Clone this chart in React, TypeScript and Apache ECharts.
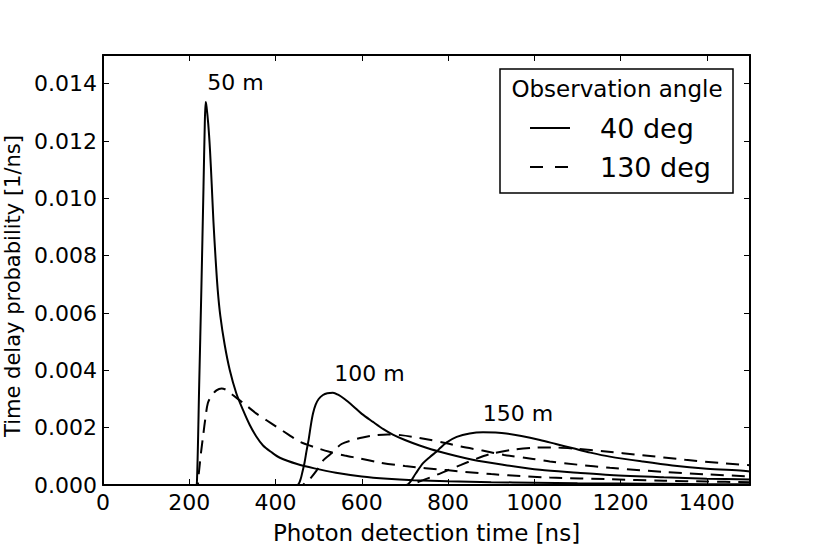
import { useEffect, useRef } from "react";
import * as echarts from "echarts";

// Time delay distributions: [time ns, probability 1/ns]
const solid50: number[][] = [
  [0, 0], [215, 0], [218, 0.0002], [223, 0.0035], [228, 0.0068], [233, 0.0104], [236, 0.0126],
  [238, 0.01336], [240, 0.0132], [244, 0.0126], [248, 0.0117], [252, 0.0105], [256, 0.0092],
  [261, 0.0079], [266, 0.0068], [272, 0.0059], [282, 0.0049], [294, 0.004], [309, 0.0032],
  [325, 0.0026], [340, 0.0021], [355, 0.0017], [371, 0.00138], [390, 0.00115], [410, 0.00095],
  [450, 0.00073], [490, 0.00058], [540, 0.00043], [600, 0.0003], [660, 0.00022], [720, 0.00017],
  [800, 0.00013], [900, 0.0001], [1000, 0.00008], [1100, 0.00006], [1200, 0.00005], [1300, 0.00004],
  [1400, 0.00003], [1500, 0.00003],
];
const dashed50: number[][] = [
  [0, 0], [218, 0], [222, 0.0004], [227, 0.0011], [232, 0.0017], [238, 0.0024], [243, 0.00285],
  [251, 0.0031], [263, 0.0033], [275, 0.00337], [288, 0.0033], [301, 0.00314], [330, 0.0028],
  [355, 0.0025], [380, 0.00225], [402, 0.00203], [430, 0.00176], [456, 0.00151], [490, 0.00132],
  [525, 0.00116], [560, 0.00103], [595, 0.00093], [642, 0.00078], [700, 0.00066], [796, 0.00052],
  [900, 0.00038], [1036, 0.00026], [1175, 0.0002], [1300, 0.00015], [1400, 0.00012], [1500, 0.0001],
];
const solid100: number[][] = [
  [0, 0], [450, 0], [458, 0.0002], [463, 0.0005], [467, 0.00076], [472, 0.0012], [477, 0.0016],
  [482, 0.0021], [487, 0.0025], [493, 0.0028], [500, 0.003], [510, 0.00314], [520, 0.0032],
  [533, 0.00322], [545, 0.00315], [560, 0.003], [580, 0.00275], [600, 0.00248], [626, 0.0022],
  [650, 0.00195], [672, 0.00176], [700, 0.00157], [734, 0.00138], [781, 0.00116], [857, 0.00088],
  [930, 0.0007], [1013, 0.00053], [1100, 0.00043], [1175, 0.00035], [1300, 0.00027], [1400, 0.00022],
  [1500, 0.00019],
];
const dashed100: number[][] = [
  [0, 0], [462, 0], [470, 0.0001], [479, 0.0002], [495, 0.0005], [510, 0.00085], [525, 0.00105],
  [553, 0.00143], [579, 0.00157], [602, 0.00166], [630, 0.00173], [660, 0.00176], [690, 0.00174],
  [734, 0.00164], [796, 0.00146], [830, 0.00134], [880, 0.0012], [930, 0.00105], [997, 0.00091],
  [1036, 0.00082], [1100, 0.00071], [1175, 0.0006], [1300, 0.00046], [1400, 0.00037], [1500, 0.0003],
];
const solid150: number[][] = [
  [0, 0], [703, 0], [711, 0.00008], [725, 0.0004], [742, 0.00076], [758, 0.00098], [773, 0.00116],
  [781, 0.00128], [796, 0.00148], [820, 0.00168], [850, 0.0018], [881, 0.00184], [910, 0.00183],
  [935, 0.0018], [970, 0.00171], [1013, 0.00157], [1050, 0.00143], [1090, 0.00128], [1130, 0.00113],
  [1175, 0.00099], [1250, 0.00082], [1320, 0.00068], [1400, 0.00057], [1484, 0.0005], [1500, 0.00047],
];
const dashed150: number[][] = [
  [0, 0], [705, 0], [720, 0.00005], [742, 0.00017], [773, 0.00035], [800, 0.00052], [830, 0.0007],
  [866, 0.00092], [900, 0.00109], [950, 0.00123], [1000, 0.0013], [1040, 0.00131], [1100, 0.00126],
  [1160, 0.00118], [1250, 0.00104], [1350, 0.00088], [1430, 0.00077], [1500, 0.00069],
];

const distanceLabels = ["50 m", "100 m", "150 m"];
const labelTimes = [307, 618, 962];
const labelValues = [0.01404, 0.0039, 0.00251];

const legendTitle = "Observation angle";
const angleNames = ["40 deg", "130 deg"];

const FONT = "DejaVu Sans";

export default function App() {
  const ref = useRef<HTMLDivElement>(null);

  useEffect(() => {
    if (!ref.current) return;
    const chart = echarts.init(ref.current, undefined, { renderer: "svg" });

    const lineSeries = (data: number[][], dashed: boolean) => ({
      type: "line",
      data,
      showSymbol: false,
      symbol: "none",
      smooth: 0.3,
      xAxisIndex: 0,
      yAxisIndex: 0,
      lineStyle: { color: "#000", width: 2, type: dashed ? [13, 8] : "solid" },
      z: 3,
    });

    const axisCommon = {
      axisLine: { show: true, onZero: false, lineStyle: { color: "#000", width: 2 } },
      axisTick: { show: true, inside: true, length: 6, lineStyle: { color: "#000", width: 1 } },
      splitLine: { show: false },
    };

    chart.setOption({
      animation: false,
      backgroundColor: "#fff",
      grid: {
        left: 103,
        right: 80,
        top: 55,
        bottom: 69,
        containLabel: false,
        outerBoundsMode: "none",
      },
      xAxis: [
        {
          type: "value",
          min: 0,
          max: 1500,
          interval: 200,
          position: "bottom",
          ...axisCommon,
          axisLabel: {
            show: true,
            showMaxLabel: false,
            margin: 6,
            color: "#000",
            fontFamily: FONT,
            fontSize: 22,
            formatter: (v: number) => String(Math.round(v)),
          },
          name: "Photon detection time [ns]",
          nameLocation: "middle",
          nameGap: 36,
          nameTextStyle: { color: "#000", fontFamily: FONT, fontSize: 23 },
        },
        {
          type: "value",
          min: 0,
          max: 1500,
          interval: 200,
          position: "top",
          ...axisCommon,
          axisLabel: { show: false },
        },
      ],
      yAxis: [
        {
          type: "value",
          min: 0,
          max: 0.015,
          interval: 0.002,
          position: "left",
          ...axisCommon,
          axisLabel: {
            show: true,
            showMaxLabel: false,
            margin: 6,
            color: "#000",
            fontFamily: FONT,
            fontSize: 22,
            formatter: (v: number) => v.toFixed(3),
          },
          name: "Time delay probability [1/ns]",
          nameLocation: "middle",
          nameGap: 80,
          nameTextStyle: { color: "#000", fontFamily: FONT, fontSize: 21, padding: [0, 32, 0, 0] },
        },
        {
          type: "value",
          min: 0,
          max: 0.015,
          interval: 0.002,
          position: "right",
          ...axisCommon,
          axisLabel: { show: false },
        },
      ],
      series: [
        lineSeries(solid50, false),
        lineSeries(dashed50, true),
        lineSeries(solid100, false),
        lineSeries(dashed100, true),
        lineSeries(solid150, false),
        lineSeries(dashed150, true),
        {
          type: "custom",
          xAxisIndex: 0,
          yAxisIndex: 0,
          data: labelTimes.map((t, i) => [t, labelValues[i]]),
          renderItem: (params: any, api: any) => {
            const p = api.coord([api.value(0), api.value(1)]);
            return {
              type: "text",
              x: p[0],
              y: p[1],
              style: {
                text: distanceLabels[params.dataIndex],
                fill: "#000",
                font: `22px "${FONT}"`,
                align: "center",
                verticalAlign: "middle",
              },
            };
          },
          z: 5,
        },
      ],
      graphic: [
        {
          type: "rect",
          shape: { x: 500, y: 69, width: 233, height: 124 },
          style: { fill: "#fff", stroke: "#000", lineWidth: 1.5 },
          z: 10,
        },
        {
          type: "text",
          x: 617,
          y: 89,
          style: {
            text: legendTitle,
            fill: "#000",
            font: `23px "${FONT}"`,
            align: "center",
            verticalAlign: "middle",
          },
          z: 11,
        },
        {
          type: "line",
          shape: { x1: 530, y1: 128, x2: 570, y2: 128 },
          style: { stroke: "#000", lineWidth: 2 },
          z: 11,
        },
        {
          type: "line",
          shape: { x1: 530, y1: 167, x2: 570, y2: 167 },
          style: { stroke: "#000", lineWidth: 2, lineDash: [13, 12] },
          z: 11,
        },
        {
          type: "text",
          x: 600,
          y: 128,
          style: {
            text: angleNames[0],
            fill: "#000",
            font: `27px "${FONT}"`,
            align: "left",
            verticalAlign: "middle",
          },
          z: 11,
        },
        {
          type: "text",
          x: 600,
          y: 167,
          style: {
            text: angleNames[1],
            fill: "#000",
            font: `27px "${FONT}"`,
            align: "left",
            verticalAlign: "middle",
          },
          z: 11,
        },
      ],
    });

    return () => chart.dispose();
  }, []);

  return (
    <div
      ref={ref}
      style={{ position: "fixed", left: 0, top: 0, width: 830, height: 554, background: "#fff" }}
    />
  );
}
